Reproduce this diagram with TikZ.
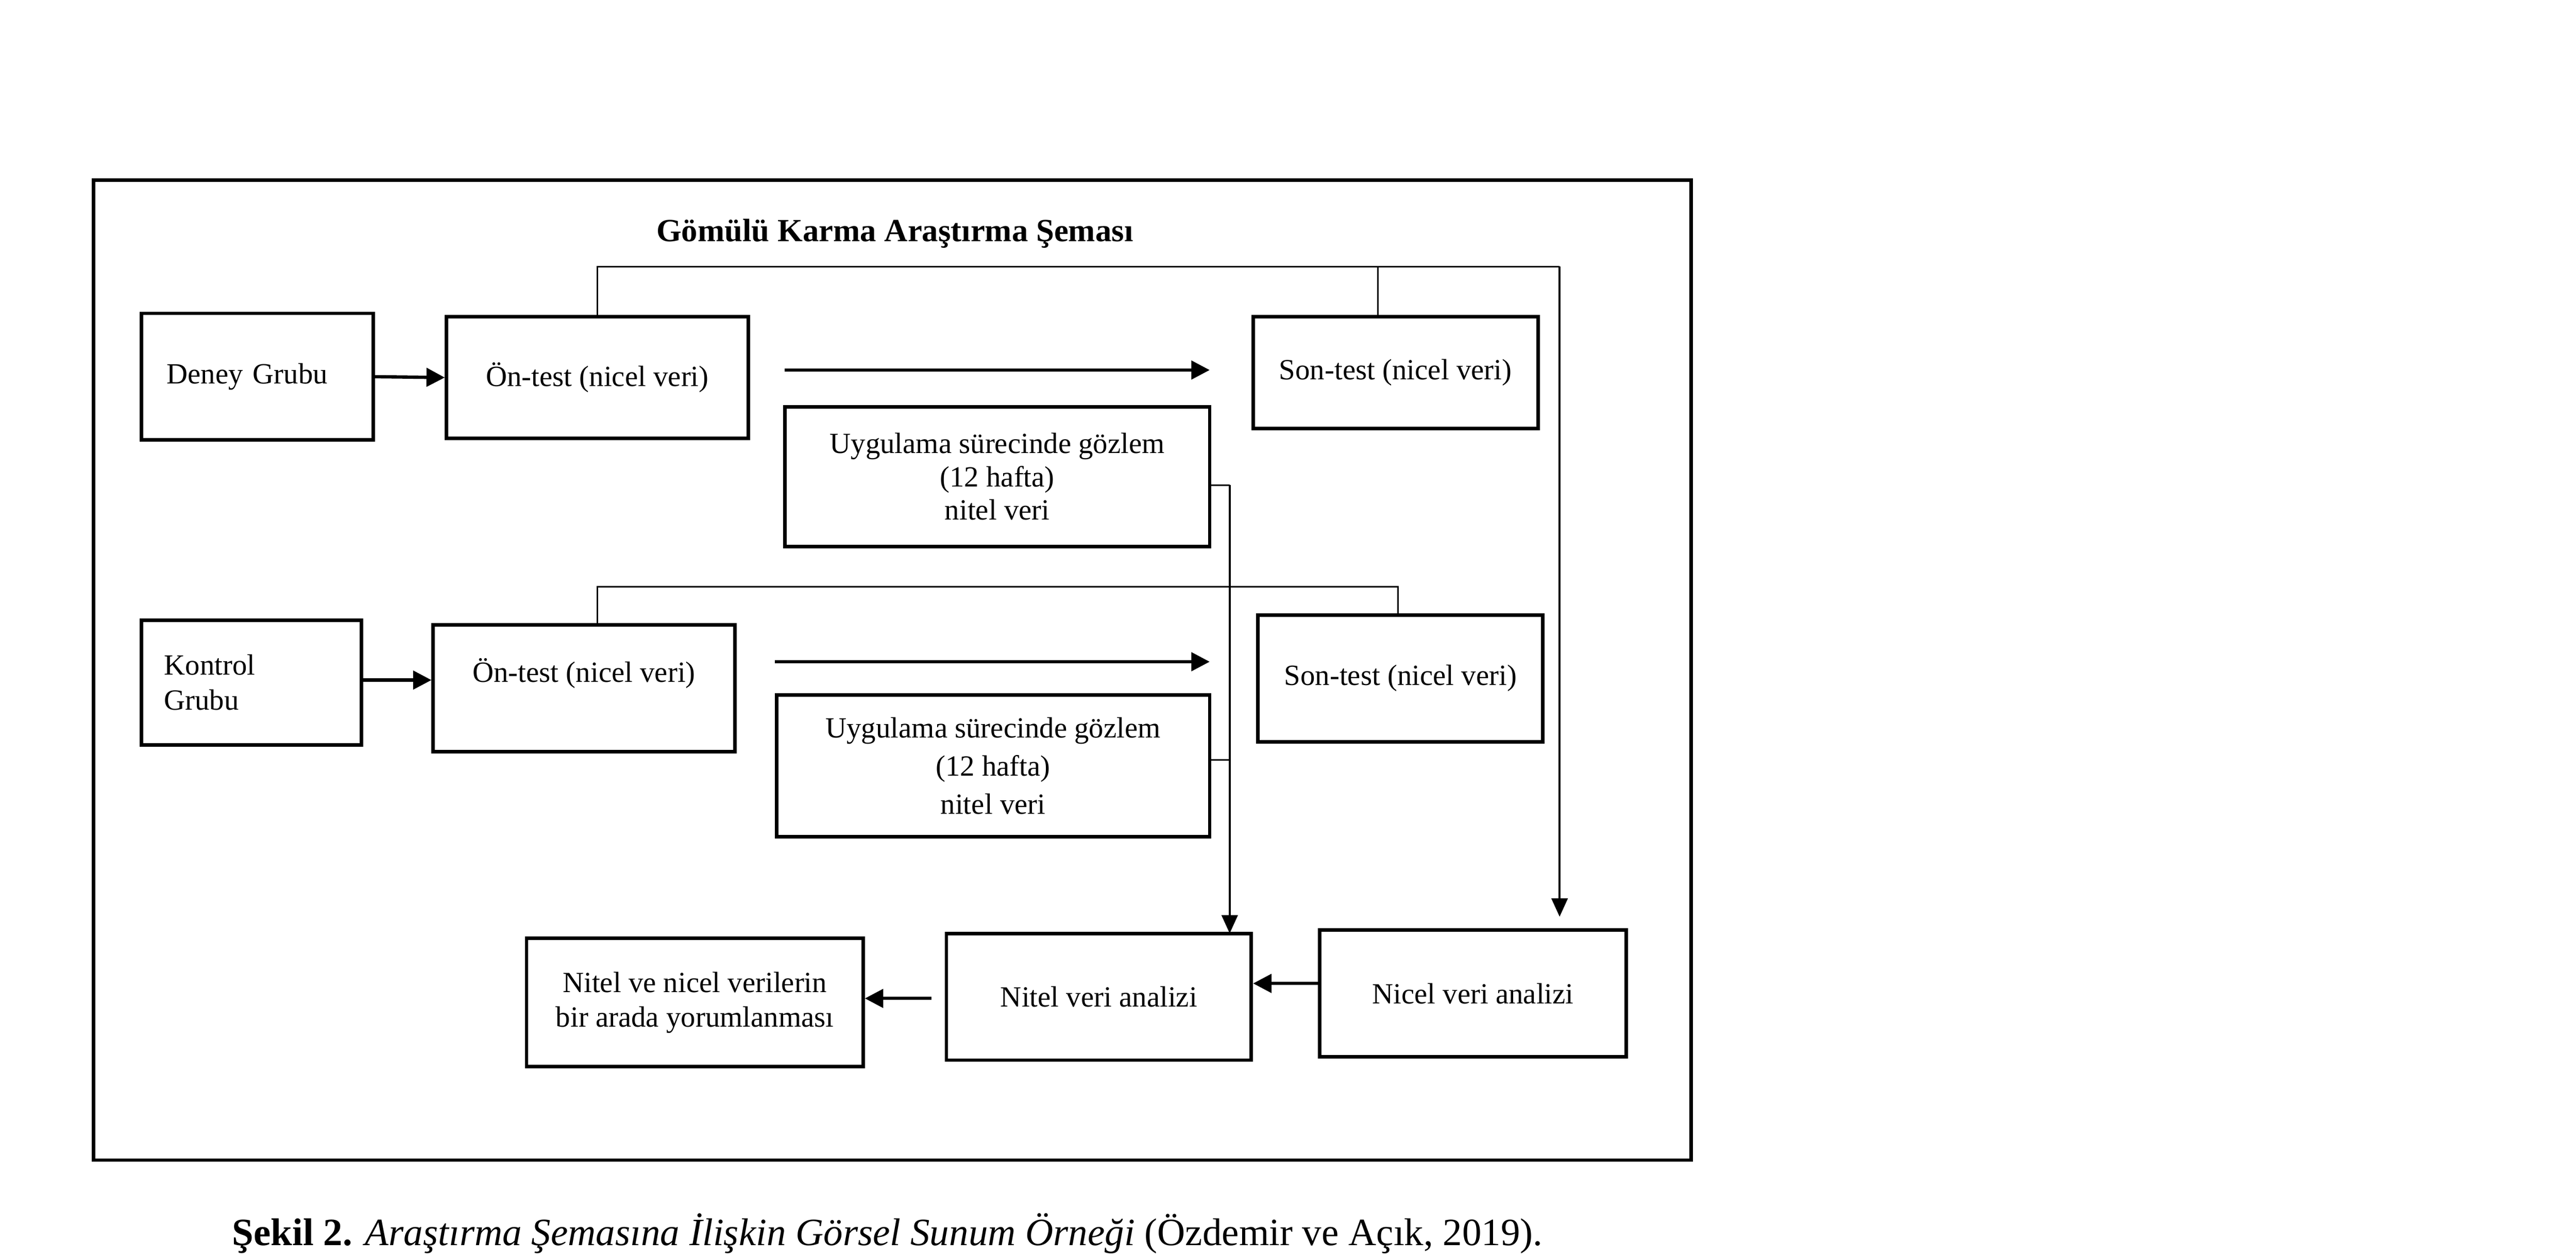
\documentclass[tikz,border=0pt]{standalone}
\usepackage{fontspec}
\setmainfont{Liberation Serif}
\usetikzlibrary{arrows.meta}
\begin{document}
\begin{tikzpicture}[x=0.25mm,y=-0.25mm,
  box/.style={draw,line width=1.5pt,rectangle,inner sep=0pt,font=\fontsize{12.5}{15}\selectfont,align=center},
  txt/.style={font=\fontsize{12.5}{15}\selectfont,inner sep=0pt},
  thickarr/.style={line width=1.4pt,-{Triangle[length=2.75mm,width=2.75mm]}},
  medarr/.style={line width=1pt,-{Triangle[length=2.75mm,width=2.4mm]}},
  thinline/.style={line width=0.6pt},
  medline/.style={line width=1pt}]
\useasboundingbox (0,0) rectangle (1546,754);
% frame
\draw[line width=1.5pt] (56,108) rectangle (1015,696);
\node[inner sep=0pt,font=\fontsize{13.8}{16}\selectfont\bfseries] (title) at (537,140) {Gömülü Karma Araştırma Şeması};
% group 1
\node[box,minimum width=34.75mm,minimum height=19mm,text width=27.25mm,align=left] (deney) at (154.5,226) {Deney Grubu};
\node[box,minimum width=45.25mm,minimum height=18.25mm] (on1) at (358.5,226.5) {Ön-test (nicel veri)};
\node[box,minimum width=42.75mm,minimum height=16.75mm] (son1) at (837.5,223.5) {Son-test (nicel veri)};
\node[box,minimum width=63.75mm,minimum height=21mm,font=\fontsize{12.5}{14.2}\selectfont] (uyg1) at (598.5,286) {Uygulama sürecinde gözlem\\(12 hafta)\\nitel veri};
% group 2
\node[box,minimum width=33mm,minimum height=18.75mm,text width=26.25mm,align=left] (kontrol) at (151,409.5) {Kontrol\\Grubu};
\node[box,minimum width=45.25mm,minimum height=19mm,label={[txt,yshift=2.25mm]center:Ön-test (nicel veri)}] (on2) at (350.5,413) {};
\node[box,minimum width=42.75mm,minimum height=19mm] (son2) at (840.5,407) {Son-test (nicel veri)};
\node[box,minimum width=65mm,minimum height=21.25mm,font=\fontsize{12.5}{16.3}\selectfont] (uyg2) at (596,459.5) {Uygulama sürecinde gözlem\\(12 hafta)\\nitel veri};
% bottom row
\node[box,minimum width=45.75mm,minimum height=19mm] (nitel) at (659.5,598) {Nitel veri analizi};
\node[box,minimum width=46mm,minimum height=19mm] (nicel) at (884,596) {Nicel veri analizi};
\node[box,minimum width=50.5mm,minimum height=19.25mm,font=\fontsize{12.5}{14.9}\selectfont] (yorum) at (417,601.5) {Nitel ve nicel verilerin\\bir arada yorumlanması};
% coordinates
\coordinate (h1s) at (471,222);
\coordinate (h1e) at (726,222);
\coordinate (h2s) at (465,397);
\coordinate (h2e) at (726,397);
\coordinate (b1) at (358.5,160);
\coordinate (b1r) at (936,160);
\coordinate (b1t) at (827,160);
\coordinate (b1end) at (936,550);
\coordinate (b2) at (358.5,352);
\coordinate (b2r) at (839,352);
\coordinate (v1) at (738,291);
\coordinate (v2) at (738,456);
\coordinate (vend) at (738,560);
% arrows
\draw[thickarr] (deney.east) -- (on1.west);
\draw[thickarr] (kontrol.east |- 0,408) -- (on2.west |- 0,408);
\draw[thickarr] (h1s) -- (h1e);
\draw[thickarr] (h2s) -- (h2e);
\draw[thinline] (on1.north) -- (b1) -- (b1r);
\draw[thinline] (b1t) -- (b1t |- son1.north);
\draw[medarr] (b1r) -- (b1end);
\draw[thinline] (b2 |- on2.north) -- (b2) -- (b2r) -- (b2r |- son2.north);
\draw[thinline] (uyg1.east |- v1) -- (v1);
\draw[thinline] (uyg2.east |- v2) -- (v2);
\draw[medarr] (v1) -- (vend);
\draw[thickarr] (nicel.west |- 0,590) -- (nitel.east |- 0,590);
\draw[thickarr] (nitel.west |- 0,599) ++(-8,0) -- (yorum.east |- 0,599);
% caption
\node[anchor=west,inner sep=0pt,font=\fontsize{16.5}{19}\selectfont] (cap) at (139,740) {\textbf{Şekil 2.} \textit{Araştırma Şemasına İlişkin Görsel Sunum Örneği} (Özdemir ve Açık, 2019).};
\end{tikzpicture}
\end{document}
